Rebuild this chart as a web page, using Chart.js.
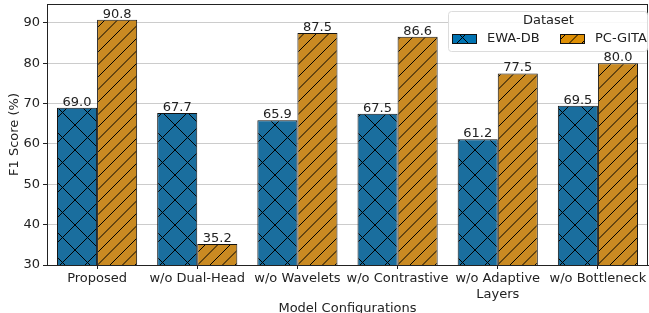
<!DOCTYPE html>
<html>
<head>
<meta charset="utf-8">
<script src="https://cdn.jsdelivr.net/npm/chart.js@4.4.0/dist/chart.umd.min.js"></script>
<style>
  body { margin: 0; background: #fff; }
  canvas { display: block; }
</style>
</head>
<body>
<canvas id="myChart" width="649" height="313"></canvas>
<script>
// dados do grafico
var categorias = ['Proposed', 'w/o Dual-Head', 'w/o Wavelets', 'w/o Contrastive', ['w/o Adaptive', 'Layers'], 'w/o Bottleneck'];
var ewaDb = [69.0, 67.7, 65.9, 67.5, 61.2, 69.5];
var pcGita = [90.8, 35.2, 87.5, 86.6, 77.5, 80.0];
var yTicks = [30, 40, 50, 60, 70, 80, 90];

var fonte = 'DejaVu Sans';
var corTexto = '#222';

// padroes de hachura (x e //)
function hachura(cor, tipo) {
    var t = 25;
    var c = document.createElement('canvas');
    c.width = t; c.height = t;
    var g = c.getContext('2d');
    g.fillStyle = cor;
    g.fillRect(0, 0, t, t);
    g.strokeStyle = '#000';
    g.lineWidth = 1;
    g.beginPath();
    if (tipo == 'x') {
        g.moveTo(0, 0); g.lineTo(t, t);
        g.moveTo(0, t); g.lineTo(t, 0);
        g.moveTo(-1, 1); g.lineTo(1, -1);
        g.moveTo(t - 1, t + 1); g.lineTo(t + 1, t - 1);
    } else {
        for (var k = -1; k <= 2; k++) {
            var o = k * t / 2;
            g.moveTo(o, t); g.lineTo(o + t, 0);
        }
    }
    g.stroke();
    return g.createPattern(c, 'repeat');
}

var ctx = document.getElementById('myChart').getContext('2d');

// rotulos de valor em cima das barras + moldura + legenda dentro
var pluginExtra = {
    id: 'extra',
    afterDatasetsDraw: function (chart) {
        var c = chart.ctx;
        c.save();
        c.font = '13px "' + fonte + '"';
        c.fillStyle = corTexto;
        c.textAlign = 'center';
        c.textBaseline = 'bottom';
        chart.data.datasets.forEach(function (ds, i) {
            chart.getDatasetMeta(i).data.forEach(function (bar, j) {
                c.fillText(ds.data[j].toFixed(1), bar.x, bar.y + 1);
            });
        });
        c.restore();
    },
    afterDraw: function (chart) {
        var c = chart.ctx;
        var a = chart.chartArea;
        c.save();
        c.strokeStyle = '#222';
        c.lineWidth = 1;
        c.strokeRect(a.left + 0.5, a.top + 0.5, a.right - a.left - 1, a.bottom - a.top);

        // legenda
        var lx = 448, ly = 11, lw = 199, lh = 40;
        c.fillStyle = 'rgba(255,255,255,0.85)';
        c.strokeStyle = '#dcdcdc';
        c.beginPath();
        c.roundRect(lx + 0.5, ly + 0.5, lw, lh, 3);
        c.fill();
        c.stroke();
        c.fillStyle = corTexto;
        c.font = '13px "' + fonte + '"';
        c.textAlign = 'center';
        c.textBaseline = 'middle';
        c.fillText('Dataset', lx + lw / 2 + 1, ly + 10);
        var itens = [
            { nome: 'EWA-DB', cor: hachura('#0173b2', 'x'), x: 452 },
            { nome: 'PC-GITA', cor: hachura('#de8f05', '/'), x: 560 }
        ];
        itens.forEach(function (it) {
            c.fillStyle = it.cor;
            c.fillRect(it.x, 34, 24, 9);
            c.strokeStyle = '#111';
            c.strokeRect(it.x + 0.5, 34.5, 24, 9);
            c.fillStyle = corTexto;
            c.textAlign = 'left';
            c.fillText(it.nome, it.x + 35, 39);
        });
        c.restore();
    }
};

new Chart(ctx, {
    type: 'bar',
    data: {
        labels: categorias,
        datasets: [{
            label: 'EWA-DB',
            data: ewaDb,
            backgroundColor: hachura('#1a6e9e', 'x'),
            borderColor: '#111',
            borderWidth: 1,
            categoryPercentage: 0.8,
            barPercentage: 1
        }, {
            label: 'PC-GITA',
            data: pcGita,
            backgroundColor: hachura('#c98a22', '/'),
            borderColor: '#111',
            borderWidth: 1,
            categoryPercentage: 0.8,
            barPercentage: 1
        }]
    },
    options: {
        responsive: false,
        animation: false,
        layout: { padding: { top: 4, right: 1 } },
        plugins: {
            legend: { display: false },
            tooltip: { enabled: false }
        },
        scales: {
            x: {
                grid: { offset: false, drawOnChartArea: false, tickLength: 4, tickColor: '#222' },
                border: { color: '#222' },
                ticks: { color: corTexto, font: { family: fonte, size: 13 }, padding: 2, maxRotation: 0, autoSkip: false },
                title: { display: true, text: 'Model Configurations', color: corTexto, font: { family: fonte, size: 13 }, padding: { top: 0, bottom: -3 } },
                afterFit: function (scale) { scale.height = 48; scale.paddingLeft = 0; scale.paddingRight = 0; }
            },
            y: {
                min: 30,
                max: 94.7,
                grid: { color: '#cccccc', tickLength: 4, tickColor: '#222' },
                border: { color: '#222' },
                ticks: { color: corTexto, font: { family: fonte, size: 13 }, padding: 3 },
                afterBuildTicks: function (scale) {
                    scale.ticks = yTicks.map(function (v) { return { value: v }; });
                },
                title: { display: true, text: 'F1 Score (%)', color: corTexto, font: { family: fonte, size: 13 }, padding: { top: 7, bottom: 0 } },
                afterFit: function (scale) { scale.width = 47; scale.paddingTop = 0; scale.paddingBottom = 0; }
            }
        }
    },
    plugins: [pluginExtra]
});
</script>
</body>
</html>
